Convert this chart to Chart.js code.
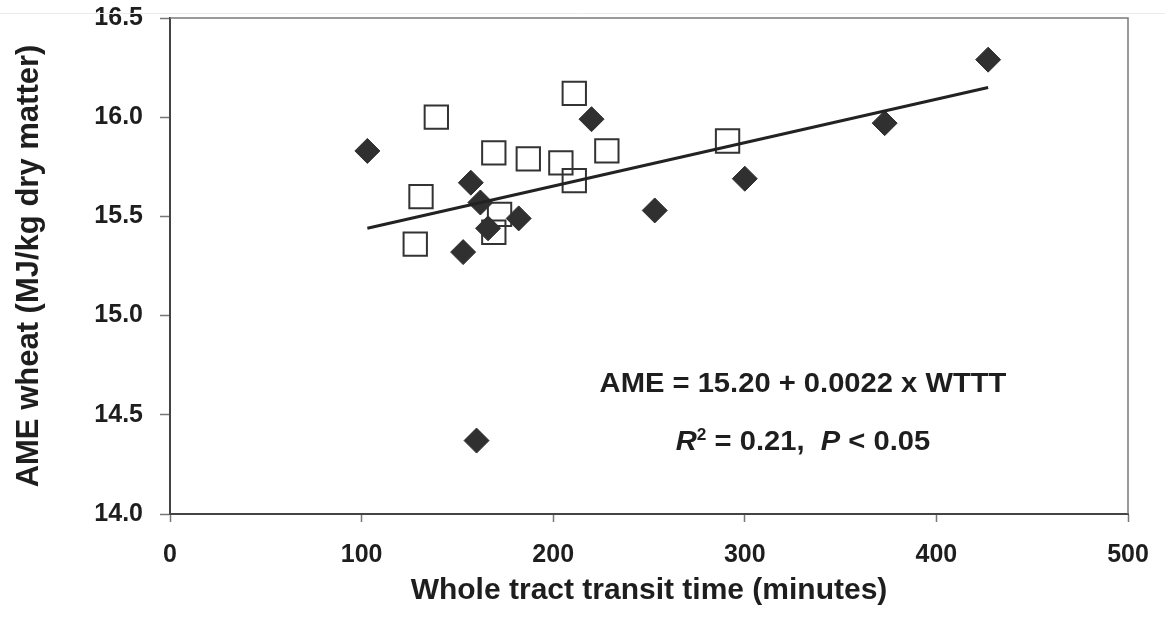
<!DOCTYPE html>
<html>
<head>
<meta charset="utf-8">
<script src="https://cdn.jsdelivr.net/npm/chart.js@4.4.1/dist/chart.umd.min.js"></script>
<style>
  html, body { margin: 0; padding: 0; background: #fff; }
  canvas { display: block; }
</style>
</head>
<body>
<canvas id="myChart" width="1165" height="618"></canvas>
<script>
// Filled diamonds (WTTT in minutes, AME in MJ/kg DM)
const filledX = [103, 153, 157, 162, 166, 182, 220, 160, 253, 300, 373, 427];
const filledY = [15.83, 15.32, 15.67, 15.57, 15.44, 15.49, 15.99, 14.37, 15.53, 15.69, 15.97, 16.29];

// Open squares
const openX = [139, 131, 128, 169, 172, 169, 187, 204, 211, 211, 228, 291];
const openY = [16.00, 15.60, 15.36, 15.82, 15.51, 15.42, 15.79, 15.77, 15.68, 16.12, 15.83, 15.88];

// Regression line end points as drawn
const fitX = [103, 427];
const fitY = [15.44, 16.15];

// Axis ticks
const xTicks = [0, 100, 200, 300, 400, 500];
const yTicks = [14.0, 14.5, 15.0, 15.5, 16.0, 16.5];

const FONT = "'Liberation Sans', Arial, sans-serif";
const toPoints = (xs, ys) => xs.map((x, i) => ({ x: x, y: ys[i] }));

// Top and right frame lines of the plot box
const framePlugin = {
  id: 'frame',
  beforeDatasetsDraw(chart) {
    const { ctx, chartArea: a } = chart;
    ctx.save();
    ctx.strokeStyle = '#ececec';
    ctx.lineWidth = 1;
    ctx.beginPath();
    ctx.moveTo(0, 13.5);
    ctx.lineTo(chart.width, 13.5);
    ctx.stroke();
    ctx.strokeStyle = '#7a7a7a';
    ctx.lineWidth = 1.5;
    ctx.beginPath();
    ctx.moveTo(a.left, a.top);
    ctx.lineTo(a.right, a.top);
    ctx.lineTo(a.right, a.bottom);
    ctx.stroke();
    ctx.restore();
  }
};

// Regression equation text
const equationPlugin = {
  id: 'equation',
  afterDraw(chart) {
    const ctx = chart.ctx;
    const cx = 803;
    const sx = 1.08;
    ctx.save();
    ctx.fillStyle = '#1e1e1e';
    ctx.textBaseline = 'alphabetic';

    // line 1
    ctx.font = 'bold 27px ' + FONT;
    const line1 = 'AME = 15.20 + 0.0022 x WTTT';
    const w1 = ctx.measureText(line1).width * sx;
    ctx.save();
    ctx.translate(cx - w1 / 2, 392);
    ctx.scale(sx, 1);
    ctx.fillText(line1, 0, 0);
    ctx.restore();

    // line 2, built from pieces
    const parts = [
      { t: 'R', f: 'italic bold 27px ', dy: 0 },
      { t: '2', f: 'bold 16px ', dy: -10 },
      { t: ' = 0.21,  ', f: 'bold 27px ', dy: 0 },
      { t: 'P', f: 'italic bold 27px ', dy: 0 },
      { t: ' < 0.05', f: 'bold 27px ', dy: 0 }
    ];
    let total = 0;
    parts.forEach(p => { ctx.font = p.f + FONT; p.w = ctx.measureText(p.t).width; total += p.w; });
    ctx.save();
    ctx.translate(cx - total * sx / 2, 450);
    ctx.scale(sx, 1);
    let x = 0;
    parts.forEach(p => {
      ctx.font = p.f + FONT;
      ctx.fillText(p.t, x, p.dy);
      x += p.w;
    });
    ctx.restore();
    ctx.restore();
  }
};

const ctx = document.getElementById('myChart').getContext('2d');

const data = {
  datasets: [
    {
      type: 'line',
      label: 'Fit',
      data: toPoints(fitX, fitY),
      borderColor: '#222',
      borderWidth: 3,
      pointRadius: 0,
      fill: false,
      order: 0
    },
    {
      type: 'scatter',
      label: 'Filled',
      data: toPoints(filledX, filledY),
      pointStyle: 'rectRot',
      pointRadius: 12.5,
      backgroundColor: '#303030',
      borderColor: '#303030',
      borderWidth: 1,
      order: 1
    },
    {
      type: 'scatter',
      label: 'Open',
      data: toPoints(openX, openY),
      pointStyle: 'rect',
      pointRadius: 16.5,
      backgroundColor: 'rgba(0,0,0,0)',
      borderColor: '#333',
      borderWidth: 2,
      order: 2
    }
  ]
};

const config = {
  type: 'scatter',
  data: data,
  plugins: [framePlugin, equationPlugin],
  options: {
    responsive: false,
    animation: false,
    devicePixelRatio: 1,
    layout: { autoPadding: false, padding: { top: 18, right: 37, left: 0, bottom: 0 } },
    plugins: {
      legend: { display: false },
      tooltip: { enabled: false }
    },
    scales: {
      x: {
        type: 'linear',
        min: 0,
        max: 500,
        afterFit: s => { s.height = 104; s.paddingLeft = 0; s.paddingRight = 0; },
        afterBuildTicks: s => { s.ticks = xTicks.map(v => ({ value: v })); },
        border: { display: true, color: '#444', width: 2 },
        grid: { drawOnChartArea: false, drawTicks: true, tickLength: 8, tickColor: '#777', tickWidth: 1.5 },
        ticks: {
          color: '#1e1e1e',
          padding: 18,
          font: { family: FONT, size: 25, weight: 'bold' }
        },
        title: {
          display: true,
          text: 'Whole tract transit time (minutes)',
          color: '#1e1e1e',
          padding: { top: 0, bottom: 9 },
          font: { family: FONT, size: 30, weight: 'bold' }
        }
      },
      y: {
        type: 'linear',
        min: 14,
        max: 16.5,
        afterFit: s => { s.width = 170; s.paddingTop = 0; s.paddingBottom = 0; },
        afterBuildTicks: s => { s.ticks = yTicks.map(v => ({ value: v })); },
        border: { display: true, color: '#444', width: 2 },
        grid: { drawOnChartArea: false, drawTicks: true, tickLength: 10, tickColor: '#777', tickWidth: 1.5 },
        ticks: {
          color: '#1e1e1e',
          padding: 17,
          callback: v => Number(v).toFixed(1),
          font: { family: FONT, size: 25, weight: 'bold' }
        },
        title: {
          display: true,
          text: 'AME wheat (MJ/kg dry matter)',
          color: '#1e1e1e',
          padding: { top: 11, bottom: 0 },
          font: { family: FONT, size: 31, weight: 'bold' }
        }
      }
    }
  }
};

const myChart = new Chart(ctx, config);
</script>
</body>
</html>
